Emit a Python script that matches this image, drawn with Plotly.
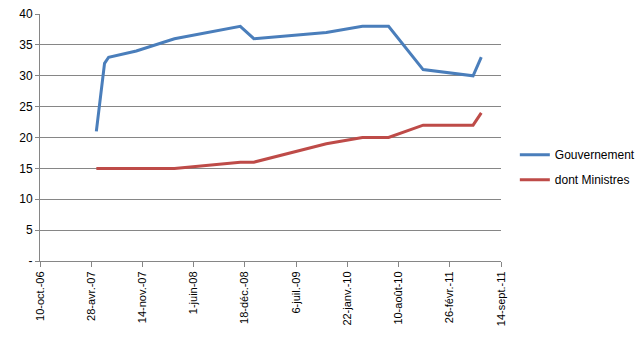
import datetime as dt
import plotly.graph_objects as go

# Dates of each government composition change
dates = ["2007-05-18", "2007-06-19", "2007-07-05", "2007-10-21", "2008-03-18",
         "2008-11-30", "2009-01-22", "2009-11-01", "2010-03-22", "2010-07-02",
         "2010-11-14", "2011-05-28", "2011-06-29"]
gouvernement = [21, 32, 33, 34, 36, 38, 36, 37, 38, 38, 31, 30, 33]
ministres = [15, 15, 15, 15, 15, 16, 16, 19, 20, 20, 22, 22, 24]

# Date axis: ticks every 200 days
start = dt.date(2006, 10, 10)
tick_dates = [start + dt.timedelta(days=200 * i) for i in range(10)]
tick_labels = ["10-oct.-06", "28-avr.-07", "14-nov.-07", "1-juin-08", "18-déc.-08",
               "6-juil.-09", "22-janv.-10", "10-août-10", "26-févr.-11", "14-sept.-11"]
y_ticks = [0, 5, 10, 15, 20, 25, 30, 35, 40]
y_labels = ["-", "5", "10", "15", "20", "25", "30", "35", "40"]

fig = go.Figure()
fig.add_trace(go.Scatter(x=dates, y=gouvernement, mode="lines", name="Gouvernement",
                         legendgroup="g", line=dict(color="#4A7EBB", width=3)))
fig.add_trace(go.Scatter(x=dates, y=ministres, mode="lines", name="dont Ministres",
                         legendgroup="m", line=dict(color="#BE4B48", width=3)))

font = "Liberation Sans, Arial, sans-serif"
fig.update_layout(
    width=640, height=345,
    margin=dict(l=40, r=139, t=14, b=84, autoexpand=False),
    paper_bgcolor="white", plot_bgcolor="white",
    font=dict(family=font, size=11, color="black"),
    showlegend=True,
    legend=dict(x=1.03, y=0.38, xanchor="left", yanchor="middle",
                traceorder="grouped", tracegroupgap=6,
                font=dict(size=12), itemwidth=30, bgcolor="rgba(0,0,0,0)"),
    xaxis=dict(type="date", range=[tick_dates[0], tick_dates[-1]],
               tickmode="array", tickvals=tick_dates, ticktext=tick_labels,
               tickangle=-90, showgrid=False, showline=True, linecolor="#868686",
               linewidth=1, ticks="outside", ticklen=5, tickcolor="#868686",
               zeroline=False, tickfont=dict(size=11)),
    yaxis=dict(range=[0, 40], tickmode="array", tickvals=y_ticks, ticktext=y_labels,
               showgrid=True, gridcolor="#868686", gridwidth=1,
               showline=True, linecolor="#868686", linewidth=1,
               ticks="outside", ticklen=4, tickcolor="#868686",
               zeroline=False, tickfont=dict(size=12)),
)

fig.write_html("out.html")
